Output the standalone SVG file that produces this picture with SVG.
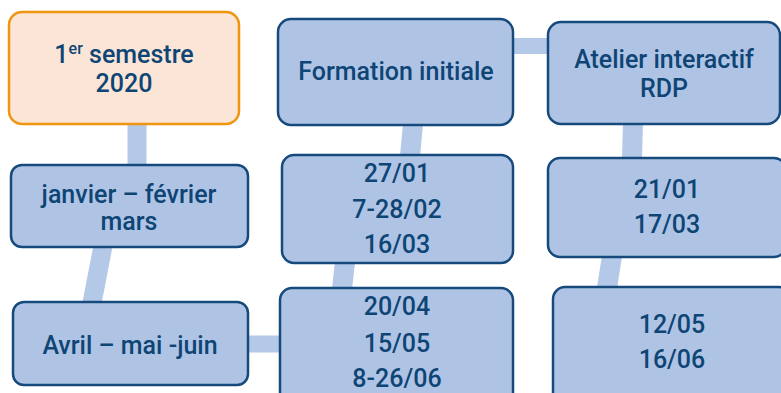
<svg xmlns="http://www.w3.org/2000/svg" width="781" height="393" viewBox="0 0 781 393">
<style>
.box{fill:#AFC4E5;stroke:#174A7C;stroke-width:2.5}
.orange{fill:#FBE5D6;stroke:#F0950F;stroke-width:2.5}
.t{font-family:Roboto,"Liberation Sans",sans-serif;font-weight:500;font-size:25px;fill:#0E4575;text-anchor:middle}
.c{stroke:#B4C8E7;fill:none}
</style>
<rect width="781" height="393" fill="#ffffff"/>
<g id="connectors">
<line class="c" x1="137" y1="124" x2="137" y2="166" stroke-width="19"/>
<line class="c" x1="103" y1="246" x2="92" y2="303" stroke-width="19"/>
<line class="c" x1="247" y1="344" x2="281" y2="344" stroke-width="17"/>
<line class="c" x1="512" y1="46" x2="549" y2="46" stroke-width="16"/>
<line class="c" x1="413" y1="124" x2="410" y2="156" stroke-width="20"/>
<line class="c" x1="345" y1="262" x2="342" y2="289" stroke-width="20"/>
<line class="c" x1="633" y1="123" x2="632" y2="159" stroke-width="20"/>
<line class="c" x1="612" y1="256" x2="607" y2="288" stroke-width="20"/>
</g>
<g id="semestre">
<rect class="orange" x="9" y="12" width="230" height="112" rx="13"/>
<text class="t" x="124" y="63">1<tspan font-size="16" dy="-9">er</tspan><tspan dy="9"> semestre</tspan></text>
<text class="t" x="124" y="92">2020</text>
</g>
<g id="janvier">
<rect class="box" x="11" y="165" width="237" height="82" rx="11"/>
<text class="t" x="129" y="203">janvier – février</text>
<text class="t" x="129" y="230">mars</text>
</g>
<g id="avril">
<rect class="box" x="13" y="302" width="235" height="83" rx="11"/>
<text class="t" x="130" y="354">Avril – mai -juin</text>
</g>
<g id="formation">
<rect class="box" x="278" y="19" width="235" height="106" rx="13"/>
<text class="t" x="396" y="80">Formation initiale</text>
</g>
<g id="dates1">
<rect class="box" x="282" y="155" width="231" height="108" rx="12"/>
<text class="t" x="397" y="182">27/01</text>
<text class="t" x="397" y="218">7-28/02</text>
<text class="t" x="397" y="253">16/03</text>
</g>
<g id="dates2">
<rect class="box" x="280" y="288" width="233" height="118" rx="12"/>
<text class="t" x="397" y="315">20/04</text>
<text class="t" x="397" y="352">15/05</text>
<text class="t" x="397" y="387">8-26/06</text>
</g>
<g id="atelier">
<rect class="box" x="548" y="22" width="232" height="102" rx="13"/>
<text class="t" x="664" y="68">Atelier interactif</text>
<text class="t" x="664" y="97">RDP</text>
</g>
<g id="dates3">
<rect class="box" x="548" y="158" width="238" height="99" rx="12"/>
<text class="t" x="667" y="198">21/01</text>
<text class="t" x="667" y="233">17/03</text>
</g>
<g id="dates4">
<rect class="box" x="553" y="287" width="238" height="118" rx="12"/>
<text class="t" x="672" y="333">12/05</text>
<text class="t" x="672" y="368">16/06</text>
</g>
</svg>
